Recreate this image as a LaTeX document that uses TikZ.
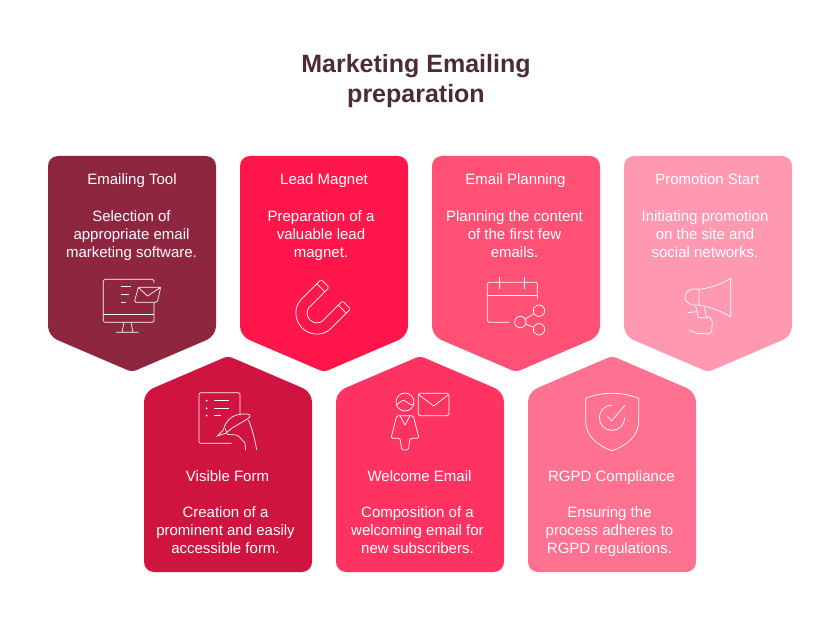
\documentclass[tikz,border=0pt]{standalone}
\usepackage{fontspec}
\setmainfont{Liberation Sans}
\definecolor{titlecol}{HTML}{4D2B33}
\definecolor{toolcol}{HTML}{8F2640}
\definecolor{magnetcol}{HTML}{FF174C}
\definecolor{plancol}{HTML}{FF5176}
\definecolor{promocol}{HTML}{FF99B2}
\definecolor{formcol}{HTML}{CF143F}
\definecolor{welcomecol}{HTML}{FF3362}
\definecolor{rgpdcol}{HTML}{FF7190}
\begin{document}
\begin{tikzpicture}[
        x=1pt, y=-1pt,
        card/.style={rounded corners=10pt},
        title/.style={font=\bfseries\fontsize{25}{30}\selectfont, text=titlecol, align=center, inner sep=0pt},
        head/.style={font=\fontsize{15}{18}\selectfont, text=white, align=center, inner sep=0pt, text height=11pt, text depth=4pt},
        body/.style={font=\fontsize{15}{18}\selectfont, text=white, align=center, inner sep=0pt, execute at begin node=\strut, execute at end node=\strut},
        icon/.style={draw=white, line width=0.7pt, rounded corners=1.5pt},
        iconfree/.style={draw=white, line width=0.7pt}
    ]
        \useasboundingbox (0,0) rectangle (840,644);

        \node[title] (main_title) at (416,81) {Marketing Emailing\\preparation};

        % Top row, tip pointing down
        \fill[card, fill=toolcol] (132,156) -- (216,156) -- (216,336) [rounded corners=4pt] -- (132,372) [rounded corners=10pt] -- (48,336) -- (48,156) -- cycle;
        \fill[card, fill=magnetcol] (324,156) -- (408,156) -- (408,336) [rounded corners=4pt] -- (324,372) [rounded corners=10pt] -- (240,336) -- (240,156) -- cycle;
        \fill[card, fill=plancol] (516,156) -- (600,156) -- (600,336) [rounded corners=4pt] -- (516,372) [rounded corners=10pt] -- (432,336) -- (432,156) -- cycle;
        \fill[card, fill=promocol] (708,156) -- (792,156) -- (792,336) [rounded corners=4pt] -- (708,372) [rounded corners=10pt] -- (624,336) -- (624,156) -- cycle;

        % Bottom row, tip pointing up
        \fill[card, fill=formcol] (228,572) -- (144,572) -- (144,392) [rounded corners=4pt] -- (228,356) [rounded corners=10pt] -- (312,392) -- (312,572) -- cycle;
        \fill[card, fill=welcomecol] (420,572) -- (336,572) -- (336,392) [rounded corners=4pt] -- (420,356) [rounded corners=10pt] -- (504,392) -- (504,572) -- cycle;
        \fill[card, fill=rgpdcol] (612,572) -- (528,572) -- (528,392) [rounded corners=4pt] -- (612,356) [rounded corners=10pt] -- (696,392) -- (696,572) -- cycle;

        % Labels
        \node[head] (tool_head) at (132,181.5) {Emailing Tool};
        \node[body] (tool_body) at (131.5,237) {Selection of\\appropriate email\\marketing software.};
        \node[head] (magnet_head) at (324,181.5) {Lead Magnet};
        \node[body] (magnet_body) at (321,237) {Preparation of a\\valuable lead\\magnet.};
        \node[head] (plan_head) at (515.5,181.5) {Email Planning};
        \node[body] (plan_body) at (514.5,237) {Planning the content\\of the first few\\emails.};
        \node[head] (promo_head) at (707.5,181.5) {Promotion Start};
        \node[body] (promo_body) at (705,237) {Initiating promotion\\on the site and\\social networks.};
        \node[head] (form_head) at (227.5,477.5) {Visible Form};
        \node[body] (form_body) at (225.5,533) {Creation of a\\prominent and easily\\accessible form.};
        \node[head] (welcome_head) at (419.5,477.5) {Welcome Email};
        \node[body] (welcome_body) at (417.5,533) {Composition of a\\welcoming email for\\new subscribers.};
        \node[head] (rgpd_head) at (611.5,477.5) {RGPD Compliance};
        \node[body] (rgpd_body) at (609.5,533) {Ensuring the\\process adheres to\\RGPD regulations.};

        % Monitor and envelope
        \draw[icon] (154,283) -- (154,279.3) -- (103.3,279.3) -- (103.3,322.3) -- (154,322.3) -- (154,303);
        \draw[iconfree] (103.3,314.3) -- (154,314.3);
        \draw[iconfree] (124,322.3) -- (122,332.3) (131,322.3) -- (133,332.3) (116,332.3) -- (138.7,332.3);
        \draw[iconfree] (121,286.7) -- (131,286.7) (121,294.3) -- (128.7,294.3) (121,302.3) -- (126,302.3);
        \draw[icon] (138.3,287.3) -- (160.7,287.3) -- (157.3,302.3) -- (134.3,302.3) -- cycle;
        \draw[iconfree] (138.3,287.3) -- (147.5,296) -- (160.7,287.3);

        % Magnet
        \begin{scope}[shift={(316.7,313.3)}, rotate=-45]
            \draw[icon] (-20.7,-27) -- (-20.7,0) arc (180:0:20.7) -- (20.7,-27) -- (9.5,-27) -- (9.5,0) arc (0:180:9.5) -- (-9.5,-27) -- cycle;
            \draw[iconfree] (-20.7,-21) -- (-9.5,-21) (9.5,-21) -- (20.7,-21);
        \end{scope}

        % Calendar
        \draw[icon] (537.3,299.3) -- (537.3,282.3) -- (487.3,282.3) -- (487.3,322.3) -- (509,322.3);
        \draw[iconfree] (487.3,295) -- (537.3,295);
        \draw[iconfree] (499.7,276.7) -- (499.7,289) (524.3,276.7) -- (524.3,289);
        \node[iconfree, circle, inner sep=0pt, minimum size=11.4pt] (share_a) at (520.3,322) {};
        \node[iconfree, circle, inner sep=0pt, minimum size=11.4pt] (share_b) at (539,310.7) {};
        \node[iconfree, circle, inner sep=0pt, minimum size=11.4pt] (share_c) at (539,329.3) {};
        \draw[iconfree] (share_a) -- (share_b);
        \draw[iconfree] (share_a) -- (share_c);

        % Megaphone
        \draw[iconfree] (699,289.3) .. controls (711,288) and (722,284) .. (730.7,278.3) -- (730.7,316.7) .. controls (721,311) and (710,307) .. (699,305) -- cycle;
        \draw[iconfree] (699,289.3) .. controls (691,288) and (685,291) .. (685,297.3) .. controls (685,303) and (691,306) .. (699,305);
        \draw[iconfree] (687.3,312.7) -- (695.7,311.7);
        \draw[iconfree] (695.7,306) -- (698.3,317.7) -- (710,317.7) -- (712.3,321.7) -- (711.7,331.7) -- (708.3,334) -- (696.7,333.3) -- (689,330);
        \draw[iconfree] (704.3,307.7) -- (706.7,317.7);

        % Form and pen
        \draw[icon] (240,414) -- (240,392.7) -- (199,392.7) -- (199,443.3) -- (231.7,443.3);
        \fill[white] (206.7,400.7) circle (1) (206.7,408.3) circle (1) (206.7,415.7) circle (1);
        \draw[iconfree] (214,400.7) -- (229.3,400.7) (214,408.3) -- (229.3,408.3) (214,415.7) -- (221,415.7);
        \draw[iconfree] (217.3,436) -- (223.3,430) .. controls (224,425) and (229,417) .. (236.7,415) .. controls (240,414) and (244,414) .. (246.7,414) .. controls (249,414) and (251,415) .. (250,416.7) .. controls (248,419) and (244,421) .. (240,423.3) -- (231.7,428.3) -- (225.7,433.3) -- cycle;
        \draw[iconfree] (225,428.3) -- (227.3,434);
        \draw[iconfree] (227.3,434.5) .. controls (232,435) and (236,434) .. (239,436.5) -- (245,443) -- (245.5,450);
        \draw[iconfree] (248.5,420) .. controls (252,428) and (255,440) .. (256.7,450);

        % Person and envelope
        \node[iconfree, circle, inner sep=0pt, minimum size=18pt] (person_head) at (405,402) {};
        \draw[iconfree] (396.5,405) .. controls (399,403) and (402,400) .. (404,400.5) .. controls (406,401) and (409,405) .. (413.5,405);
        \draw[icon] (396.7,415.7) -- (413.3,415.7) -- (419,438.3) -- (410,438.3) -- (408.3,450) -- (401.7,450) -- (400,438.3) -- (391,438.3) -- cycle;
        \draw[iconfree] (400,415.7) -- (405,425) -- (410,415.7);
        \draw[icon] (418.3,393.3) -- (449,393.3) -- (449,415.7) -- (418.3,415.7) -- cycle;
        \draw[iconfree] (418.3,394.3) -- (433.7,406) -- (449,394.3);

        % Shield and check
        \draw[iconfree] (585.7,398.3) .. controls (594,395) and (603,393.3) .. (612,393.3) .. controls (621,393.3) and (630,395) .. (638.7,398.3) -- (638.7,421.7) .. controls (638.7,436) and (626,446) .. (612,450.7) .. controls (598,446) and (585.7,436) .. (585.7,421.7) -- cycle;
        \draw[iconfree] (612,405) arc (-90:-360:12.7);
        \draw[iconfree] (607.3,416) -- (611.7,421) -- (625,405);

    \end{tikzpicture}
\end{document}
